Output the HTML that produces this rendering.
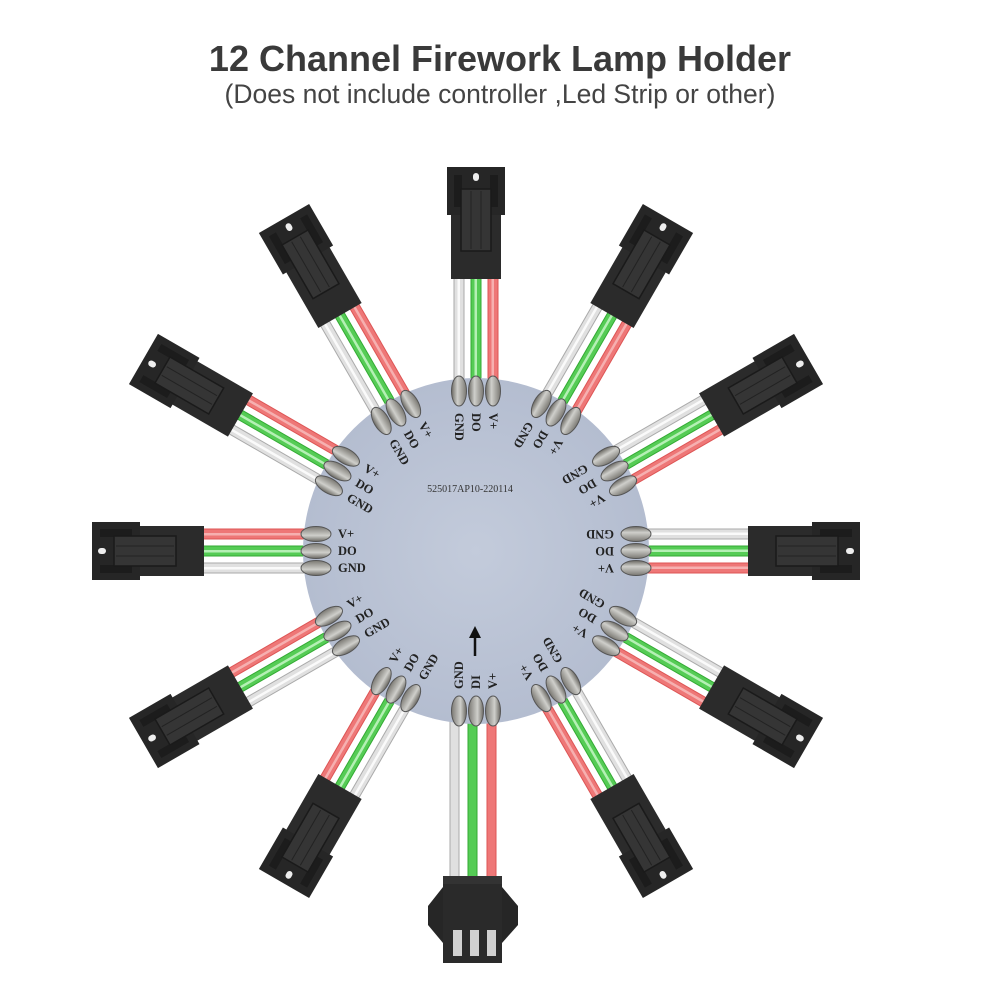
<!DOCTYPE html>
<html><head><meta charset="utf-8"><style>
html,body{margin:0;padding:0;background:#fff;width:1000px;height:1000px;overflow:hidden}
</style></head><body>
<svg width="1000" height="1000" viewBox="0 0 1000 1000" xmlns="http://www.w3.org/2000/svg">
<defs>
<radialGradient id="disc" cx="50%" cy="50%" r="50%"><stop offset="0" stop-color="#c3cbdb"/><stop offset="1" stop-color="#b4bdd0"/></radialGradient>
<linearGradient id="pad" x1="0" y1="0" x2="0" y2="1"><stop offset="0" stop-color="#6a6862"/><stop offset="0.4" stop-color="#cfcfcb"/><stop offset="1" stop-color="#7a7872"/></linearGradient>
<g id="wires">
 <rect x="150" y="12" width="125" height="10" fill="#e77" stroke="#d55" stroke-width="1"/>
 <rect x="150" y="15.5" width="125" height="2.5" fill="#f6b0b0"/>
 <rect x="150" y="-5" width="125" height="10" fill="#5c5" stroke="#3a3" stroke-width="1"/>
 <rect x="150" y="-1.5" width="125" height="2.5" fill="#b5f0b5"/>
 <rect x="150" y="-22" width="125" height="10" fill="#e0e0e0" stroke="#aaa" stroke-width="1"/>
 <rect x="150" y="-18.5" width="125" height="2.5" fill="#fafafa"/>
</g>
<g id="pads">
 <ellipse cx="160" cy="17" rx="15" ry="7.5" fill="url(#pad)" stroke="#555" stroke-width="1"/>
 <ellipse cx="160" cy="0" rx="15" ry="7.5" fill="url(#pad)" stroke="#555" stroke-width="1"/>
 <ellipse cx="160" cy="-17" rx="15" ry="7.5" fill="url(#pad)" stroke="#555" stroke-width="1"/>
</g>
<g id="conn">
 <rect x="272" y="-25" width="68" height="50" fill="#2b2b2b"/>
 <rect x="336" y="-29" width="48" height="58" fill="#262626"/>
 <rect x="344" y="-22" width="32" height="8" fill="#1c1c1c"/>
 <rect x="344" y="14" width="32" height="8" fill="#1c1c1c"/>
 <rect x="300" y="-15" width="62" height="30" fill="#353535" stroke="#1a1a1a" stroke-width="1.5"/>
 <line x1="302" y1="-5" x2="360" y2="-5" stroke="#222" stroke-width="1"/>
 <line x1="302" y1="5" x2="360" y2="5" stroke="#222" stroke-width="1"/>
 <rect x="370" y="-3" width="8" height="6" rx="3" fill="#eee"/>
</g>
</defs>
<text x="500" y="71" text-anchor="middle" font-family="Liberation Sans, sans-serif" font-weight="bold" font-size="36" fill="#3a3a3a">12 Channel Firework Lamp Holder</text>
<text x="500" y="103" text-anchor="middle" font-family="Liberation Sans, sans-serif" font-size="26.5" fill="#444">(Does not include controller ,Led Strip or other)</text>

<g transform="translate(476,551)">
 <g transform="rotate(-90)"><use href="#wires"/><use href="#conn"/></g>
 <g transform="rotate(-60)"><use href="#wires"/><use href="#conn"/></g>
 <g transform="rotate(-30)"><use href="#wires"/><use href="#conn"/></g>
 <g transform="rotate(0)"><use href="#wires"/><use href="#conn"/></g>
 <g transform="rotate(30)"><use href="#wires"/><use href="#conn"/></g>
 <g transform="rotate(60)"><use href="#wires"/><use href="#conn"/></g>
 <g transform="rotate(120)"><use href="#wires"/><use href="#conn"/></g>
 <g transform="rotate(150)"><use href="#wires"/><use href="#conn"/></g>
 <g transform="rotate(180)"><use href="#wires"/><use href="#conn"/></g>
 <g transform="rotate(210)"><use href="#wires"/><use href="#conn"/></g>
 <g transform="rotate(240)"><use href="#wires"/><use href="#conn"/></g>
 <rect x="-26" y="150" width="9" height="178" fill="#e0e0e0" stroke="#aaa"/>
 <rect x="-8" y="150" width="9" height="178" fill="#5c5" stroke="#3a3"/>
 <rect x="11" y="150" width="9" height="178" fill="#e77" stroke="#d55"/>
 <polygon points="-33,336 -48,355 -48,374 -33,392" fill="#262626"/>
 <polygon points="26,336 42,355 42,374 26,392" fill="#262626"/>
 <rect x="-33" y="325" width="59" height="87" fill="#2a2a2a"/>
 <rect x="-33" y="325" width="59" height="8" fill="#333"/>
 <rect x="-23" y="379" width="9" height="26" fill="#d0d0d0"/>
 <rect x="-6" y="379" width="9" height="26" fill="#d0d0d0"/>
 <rect x="11" y="379" width="9" height="26" fill="#d0d0d0"/>
 <circle r="173" fill="url(#disc)"/>
 <g transform="rotate(-90)"><use href="#pads"/></g>
 <g transform="rotate(-60)"><use href="#pads"/></g>
 <g transform="rotate(-30)"><use href="#pads"/></g>
 <g transform="rotate(0)"><use href="#pads"/></g>
 <g transform="rotate(30)"><use href="#pads"/></g>
 <g transform="rotate(60)"><use href="#pads"/></g>
 <g transform="rotate(90)"><use href="#pads"/></g>
 <g transform="rotate(120)"><use href="#pads"/></g>
 <g transform="rotate(150)"><use href="#pads"/></g>
 <g transform="rotate(180)"><use href="#pads"/></g>
 <g transform="rotate(210)"><use href="#pads"/></g>
 <g transform="rotate(240)"><use href="#pads"/></g>
 <g font-family="Liberation Serif, serif" font-weight="bold" font-size="12.5" fill="#222" dominant-baseline="central">
  <g transform="rotate(-90)"><text transform="translate(138,17) rotate(180)">V+</text><text transform="translate(138,0) rotate(180)">DO</text><text transform="translate(138,-17) rotate(180)">GND</text></g>
  <g transform="rotate(-60)"><text transform="translate(138,17) rotate(180)">V+</text><text transform="translate(138,0) rotate(180)">DO</text><text transform="translate(138,-17) rotate(180)">GND</text></g>
  <g transform="rotate(-30)"><text transform="translate(138,17) rotate(180)">V+</text><text transform="translate(138,0) rotate(180)">DO</text><text transform="translate(138,-17) rotate(180)">GND</text></g>
  <g transform="rotate(0)"><text transform="translate(138,17) rotate(180)">V+</text><text transform="translate(138,0) rotate(180)">DO</text><text transform="translate(138,-17) rotate(180)">GND</text></g>
  <g transform="rotate(30)"><text transform="translate(138,17) rotate(180)">V+</text><text transform="translate(138,0) rotate(180)">DO</text><text transform="translate(138,-17) rotate(180)">GND</text></g>
  <g transform="rotate(60)"><text transform="translate(138,17) rotate(180)">V+</text><text transform="translate(138,0) rotate(180)">DO</text><text transform="translate(138,-17) rotate(180)">GND</text></g>
  <g transform="rotate(90)"><text transform="translate(138,-17) rotate(180)">V+</text><text transform="translate(138,0) rotate(180)">DI</text><text transform="translate(138,17) rotate(180)">GND</text></g>
  <g transform="rotate(120)"><text transform="translate(138,17) rotate(180)">V+</text><text transform="translate(138,0) rotate(180)">DO</text><text transform="translate(138,-17) rotate(180)">GND</text></g>
  <g transform="rotate(150)"><text transform="translate(138,17) rotate(180)">V+</text><text transform="translate(138,0) rotate(180)">DO</text><text transform="translate(138,-17) rotate(180)">GND</text></g>
  <g transform="rotate(180)"><text transform="translate(138,17) rotate(180)">V+</text><text transform="translate(138,0) rotate(180)">DO</text><text transform="translate(138,-17) rotate(180)">GND</text></g>
  <g transform="rotate(210)"><text transform="translate(138,17) rotate(180)">V+</text><text transform="translate(138,0) rotate(180)">DO</text><text transform="translate(138,-17) rotate(180)">GND</text></g>
  <g transform="rotate(240)"><text transform="translate(138,17) rotate(180)">V+</text><text transform="translate(138,0) rotate(180)">DO</text><text transform="translate(138,-17) rotate(180)">GND</text></g>
 </g>
 <text x="-6" y="-59" text-anchor="middle" font-family="Liberation Serif, serif" font-size="10" fill="#333">525017AP10-220114</text>
 <line x1="-1" y1="105" x2="-1" y2="85" stroke="#111" stroke-width="2.5"/>
 <polygon points="-1,75 -7,87 5,87" fill="#111"/>
</g>
</svg>
</body></html>
